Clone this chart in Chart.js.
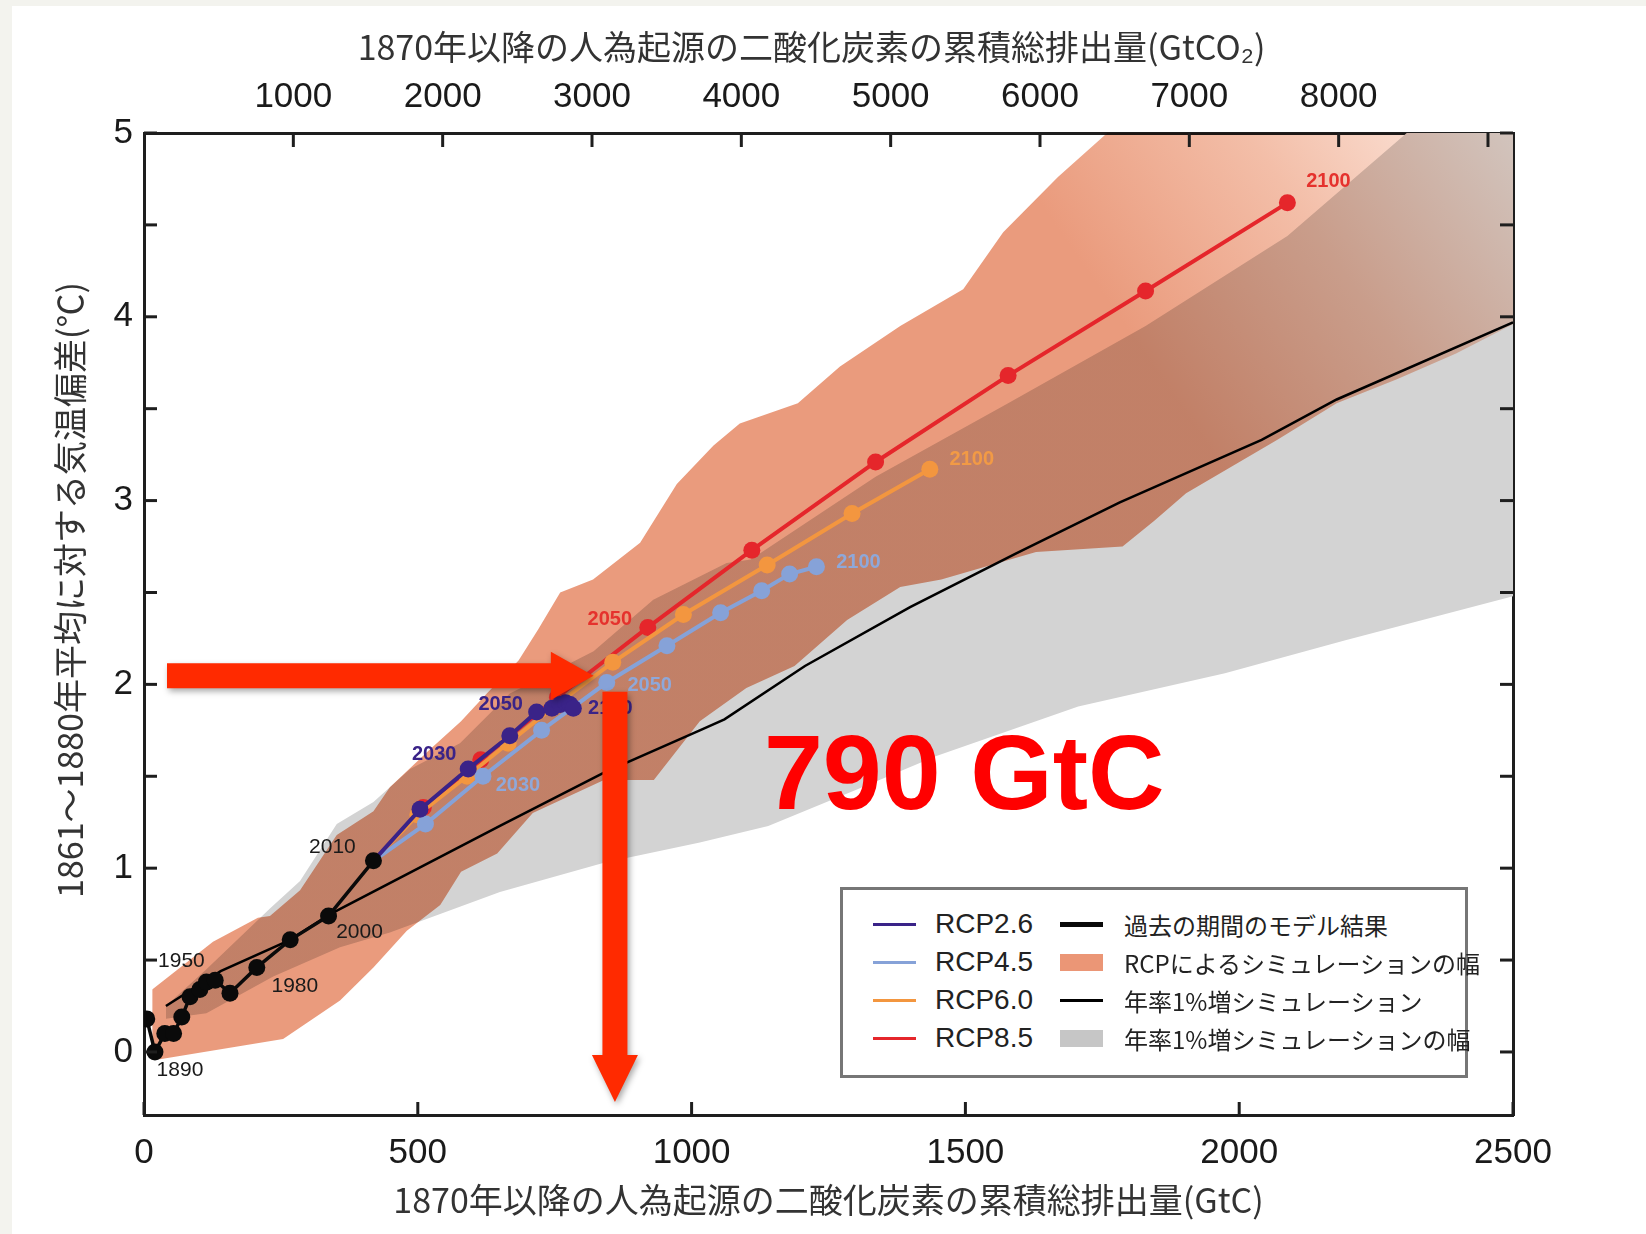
<!DOCTYPE html>
<html>
<head>
<meta charset="utf-8">
<script src="https://cdn.jsdelivr.net/npm/chart.js"></script>
<style>
  html, body { margin: 0; padding: 0; background: #f3f3ee; width: 1646px; height: 1234px; overflow: hidden; }
  #page { position: absolute; left: 12px; top: 6px; width: 1634px; height: 1228px; background: #ffffff; }
  #c { position: absolute; left: 0; top: 0; }
  #legend { position: absolute; left: 840px; top: 887px; width: 628px; height: 191px;
            border: 3px solid #767676; box-sizing: border-box; background: #ffffff; }
  .item { position: absolute; height: 38px; display: flex; align-items: center; white-space: nowrap; color: #222; }
  .item .sw { display: inline-block; width: 43px; flex: none; }
  .item.col0 .txt { font-family: "Liberation Sans", Arial, sans-serif; font-size: 28px; margin-left: 19px; }
  .item.col1 .txt { font-family: "Noto Sans CJK JP", sans-serif; font-size: 24px; margin-left: 21px; }
</style>
</head>
<body>
<div id="page"></div>
<canvas id="c" width="1646" height="1234"></canvas>
<div id="legend"></div>
<script>
// ---------------- data (GtC, °C) ----------------
const histYears = [1880, 1890, 1900, 1910, 1920, 1930, 1940, 1950, 1960, 1970, 1980, 1990, 2000, 2010];
const histX = [5, 20, 38, 54, 69, 84, 102, 114, 130, 157, 206, 267, 337, 419];
const histY = [0.18, 0.00, 0.10, 0.10, 0.19, 0.30, 0.34, 0.38, 0.39, 0.32, 0.46, 0.61, 0.74, 1.04];

const rcpYears = [2010, 2020, 2030, 2040, 2050, 2060, 2070, 2080, 2090, 2100];
const rcp26X = [419, 504, 592, 668, 717, 745, 760, 770, 778, 784];
const rcp26Y = [1.04, 1.32, 1.54, 1.72, 1.85, 1.87, 1.89, 1.90, 1.89, 1.87];
const rcp45X = [419, 514, 619, 726, 845, 955, 1053, 1128, 1179, 1228];
const rcp45Y = [1.04, 1.24, 1.50, 1.75, 2.01, 2.21, 2.39, 2.51, 2.60, 2.64];
const rcp60X = [419, 500, 590, 665, 745, 856, 985, 1138, 1293, 1435];
const rcp60Y = [1.04, 1.29, 1.50, 1.68, 1.87, 2.12, 2.38, 2.65, 2.93, 3.17];
const rcp85X = [419, 510, 615, 755, 920, 1110, 1336, 1578, 1829, 2088];
const rcp85Y = [1.04, 1.33, 1.59, 1.93, 2.31, 2.73, 3.21, 3.68, 4.14, 4.62];

// 1% per year CO2 simulations: multi-model mean
const onePctX = [40, 140, 267, 340, 650, 840, 1015, 1060, 1207, 1399, 1591, 1782, 2041, 2178, 2500];
const onePctY = [0.25, 0.44, 0.61, 0.75, 1.23, 1.52, 1.75, 1.81, 2.10, 2.42, 2.71, 2.99, 3.33, 3.55, 3.97];

// 1% per year range (grey plume)
const onePctUpX = [40, 114, 230, 285, 352, 419, 486, 577, 668, 735, 821, 930, 1064, 1108, 1336, 1578, 1829, 2088, 2306, 2500];
const onePctUpY = [0.25, 0.45, 0.78, 0.93, 1.24, 1.36, 1.54, 1.68, 1.95, 2.05, 2.18, 2.46, 2.66, 2.68, 3.13, 3.53, 3.95, 4.44, 5.00, 5.40];
const onePctLoX = [40, 114, 236, 358, 449, 650, 840, 1015, 1140, 1303, 1447, 1706, 1974, 2194, 2500];
const onePctLoY = [0.18, 0.21, 0.41, 0.57, 0.65, 0.87, 1.03, 1.14, 1.23, 1.43, 1.61, 1.88, 2.06, 2.24, 2.48];

// RCP range (coloured plume)
const rcpUpX = [15, 126, 208, 230, 285, 352, 419, 449, 520, 579, 626, 684, 720, 760, 820, 906, 973, 1040, 1088, 1194, 1271, 1381, 1496, 1569, 1669, 1759, 2000, 2500];
const rcpUpY = [0.34, 0.60, 0.73, 0.74, 0.88, 1.18, 1.31, 1.44, 1.64, 1.80, 1.95, 2.13, 2.30, 2.50, 2.57, 2.77, 3.09, 3.30, 3.42, 3.53, 3.73, 3.95, 4.15, 4.46, 4.76, 5.00, 5.60, 6.80];
const rcpLoX = [15, 29, 254, 358, 419, 480, 541, 579, 645, 710, 840, 931, 1015, 1100, 1188, 1284, 1381, 1456, 1629, 1787, 1845, 1903, 2069, 2178, 2288, 2396, 2500];
const rcpLoY = [-0.03, -0.04, 0.07, 0.28, 0.46, 0.66, 0.80, 0.98, 1.08, 1.30, 1.48, 1.48, 1.80, 1.98, 2.10, 2.35, 2.53, 2.57, 2.72, 2.75, 2.89, 3.04, 3.33, 3.53, 3.66, 3.80, 3.96];

// axes / tick labels
const GTC_TO_GTCO2 = 3.667;
const xTickLabels = [0, 500, 1000, 1500, 2000, 2500];
const topTickValues = [1000, 2000, 3000, 4000, 5000, 6000, 7000, 8000, 9000];
const topTickLabels = [1000, 2000, 3000, 4000, 5000, 6000, 7000, 8000];
const yTickLabels = [0, 1, 2, 3, 4, 5];

// labelled decades
const histLabelYears = [1890, 1950, 1980, 2000, 2010];
const rcp26LabelYears = [2030, 2050, 2100];
const rcp45LabelYears = [2030, 2050, 2100];
const rcp60LabelYears = [2100];
const rcp85LabelYears = [2050, 2100];

// texts
const X_TITLE = '1870年以降の人為起源の二酸化炭素の累積総排出量(GtC)';
const TOP_TITLE = '1870年以降の人為起源の二酸化炭素の累積総排出量(GtCO₂)\u3000';
const Y_TITLE = '\u3000\u30001861～1880年平均に対する気温偏差(℃)';
const BIG_TEXT = '790 GtC';

// annotation anchors (data units)
const ARROW_H = { x0: 42, xBase: 743, xTip: 821, y: 2.047 };
const ARROW_V = { x: 860, y0: 1.96, yBase: -0.016, yTip: -0.272 };
const BIG_TEXT_AT = { x: 1132, y: 1.32 };

// ---------------- styles ----------------
const COL = {
  rcp26: '#3a2388', rcp45: '#86a2d8', rcp60: '#f3963f', rcp85: '#e5262b',
  hist: '#0a0a0a', grey: '#d3d3d3', salmon: '#ea9b7d', arrow: '#ff2a00', big: '#ff0000'
};
const LABEL_STYLE = {
  hist:  { color: '#1a1a1a', font: '21px "Liberation Sans", Arial', off: { 1890: [25, 18], 1950: [-25, -21], 1980: [38, 19], 2000: [31, 16], 2010: [-41, -14] } },
  rcp26: { color: '#3a2388', font: 'bold 20px "Liberation Sans", Arial', off: { 2030: [-34, -14], 2050: [-36, -7], 2100: [37, 0] } },
  rcp45: { color: '#8ea8da', font: 'bold 20px "Liberation Sans", Arial', off: { 2030: [35, 9], 2050: [43, 3], 2100: [42, -4] } },
  rcp60: { color: '#f29a45', font: 'bold 20px "Liberation Sans", Arial', off: { 2100: [42, -10] } },
  rcp85: { color: '#e5322d', font: 'bold 20px "Liberation Sans", Arial', off: { 2050: [-38, -8], 2100: [41, -21] } }
};
const TICK_FONT = { family: '"Liberation Sans", Arial, sans-serif', size: 35 };
const TITLE_FONT = { family: '"Noto Sans CJK JP", sans-serif', size: 34 };
const AXIS_COLOR = '#1e1e1e';

const pts = (xs, ys) => xs.map((x, i) => ({ x, y: ys[i] }));

// dataset indices
const I = { rcp26: 0, rcp45: 1, rcp60: 2, rcp85: 3, hist: 4, onePct: 5, rcpUp: 6, rcpLo: 7, greyUp: 8, greyLo: 9 };

function plumeGradient(chart) {
  const { chartArea, scales } = chart;
  if (!chartArea) return COL.salmon;
  const x0 = scales.x.getPixelForValue(1850), y0 = scales.y.getPixelForValue(3.7);
  const x1 = scales.x.getPixelForValue(2480), y1 = scales.y.getPixelForValue(5.0);
  const g = chart.ctx.createLinearGradient(x0, y0, x1, y1);
  g.addColorStop(0, COL.salmon);
  g.addColorStop(0.5, '#f3bea8');
  g.addColorStop(1, '#fdebe2');
  return g;
}

const rcpLine = (label, xs, ys, color, order) => ({
  label, data: pts(xs, ys), borderColor: color, backgroundColor: color, borderWidth: 4,
  pointRadius: c => (c.dataIndex === 0 ? 0 : 8.5), pointBackgroundColor: color, pointBorderWidth: 0,
  fill: false, order
});

const datasets = [];
datasets[I.rcp26] = rcpLine('RCP2.6', rcp26X, rcp26Y, COL.rcp26, 10);
datasets[I.rcp45] = rcpLine('RCP4.5', rcp45X, rcp45Y, COL.rcp45, 20);
datasets[I.rcp60] = rcpLine('RCP6.0', rcp60X, rcp60Y, COL.rcp60, 30);
datasets[I.rcp85] = rcpLine('RCP8.5', rcp85X, rcp85Y, COL.rcp85, 40);
datasets[I.hist] = {
  label: '過去の期間のモデル結果', data: pts(histX, histY), borderColor: COL.hist, backgroundColor: COL.hist,
  borderWidth: 3.5, pointRadius: 8.5, pointBackgroundColor: COL.hist, pointBorderWidth: 0, fill: false, order: 5,
  legendLineWidth: 5
};
datasets[I.onePct] = {
  label: '年率1%増シミュレーション', data: pts(onePctX, onePctY), borderColor: '#000000',
  borderWidth: 2.5, pointRadius: 0, fill: false, order: 50, legendLineWidth: 3
};
datasets[I.rcpUp] = {
  label: 'RCPによるシミュレーションの幅', data: pts(rcpUpX, rcpUpY), borderColor: 'rgba(0,0,0,0)', borderWidth: 0,
  pointRadius: 0, fill: I.rcpLo, backgroundColor: c => plumeGradient(c.chart), order: 90, legendColor: '#eb9676'
};
datasets[I.rcpLo] = {
  label: '', data: pts(rcpLoX, rcpLoY), borderColor: 'rgba(0,0,0,0)', borderWidth: 0, pointRadius: 0, fill: false, order: 91
};
datasets[I.greyUp] = {
  label: '年率1%増シミュレーションの幅', data: pts(onePctUpX, onePctUpY), borderColor: 'rgba(0,0,0,0)', borderWidth: 0,
  pointRadius: 0, fill: I.greyLo, backgroundColor: COL.grey, order: 100, legendColor: '#c6c6c6'
};
datasets[I.greyLo] = {
  label: '', data: pts(onePctLoX, onePctLoY), borderColor: 'rgba(0,0,0,0)', borderWidth: 0, pointRadius: 0, fill: false, order: 101
};

// RCP plume is multiplied over the grey plume (overlap becomes brown)
const blendPlugin = {
  id: 'blend',
  afterDatasetDraw(chart, args) {
    if (args.index === I.rcpLo) chart.ctx.globalCompositeOperation = 'multiply';
    if (args.index === I.rcpUp) chart.ctx.globalCompositeOperation = 'source-over';
  }
};

const overlayPlugin = {
  id: 'overlay',
  afterDatasetsDraw(chart) {
    const { ctx, chartArea: a, scales } = chart;
    ctx.save();
    ctx.globalCompositeOperation = 'source-over';
    // inward tick marks
    ctx.strokeStyle = AXIS_COLOR; ctx.lineWidth = 3; ctx.lineCap = 'butt';
    const L = 13;
    const seg = (x1, y1, x2, y2) => { ctx.beginPath(); ctx.moveTo(x1, y1); ctx.lineTo(x2, y2); ctx.stroke(); };
    scales.y.ticks.forEach(t => {
      if (Math.abs(t.value * 2 - Math.round(t.value * 2)) > 1e-6) return;
      const py = scales.y.getPixelForValue(t.value);
      seg(a.left, py, a.left + L, py); seg(a.right, py, a.right - L, py);
    });
    scales.x.ticks.forEach(t => {
      const px = scales.x.getPixelForValue(t.value);
      seg(px, a.bottom, px, a.bottom - L);
    });
    scales.x2.ticks.forEach(t => {
      const px = scales.x2.getPixelForValue(t.value);
      seg(px, a.top, px, a.top + 14);
    });

    // decade labels
    const drawLabels = (dsIdx, years, labelYears, style) => {
      const meta = chart.getDatasetMeta(dsIdx);
      ctx.font = style.font; ctx.fillStyle = style.color; ctx.textAlign = 'center'; ctx.textBaseline = 'middle';
      labelYears.forEach(yr => {
        const el = meta.data[years.indexOf(yr)];
        const [dx, dy] = style.off[yr];
        ctx.fillText(String(yr), el.x + dx, el.y + dy);
      });
    };
    drawLabels(I.hist, histYears, histLabelYears, LABEL_STYLE.hist);
    drawLabels(I.rcp26, rcpYears, rcp26LabelYears, LABEL_STYLE.rcp26);
    drawLabels(I.rcp45, rcpYears, rcp45LabelYears, LABEL_STYLE.rcp45);
    drawLabels(I.rcp60, rcpYears, rcp60LabelYears, LABEL_STYLE.rcp60);
    drawLabels(I.rcp85, rcpYears, rcp85LabelYears, LABEL_STYLE.rcp85);

    // arrows
    const X = v => scales.x.getPixelForValue(v), Y = v => scales.y.getPixelForValue(v);
    ctx.shadowColor = 'rgba(0,0,0,0.35)'; ctx.shadowBlur = 6; ctx.shadowOffsetX = 2; ctx.shadowOffsetY = 3;
    ctx.fillStyle = COL.arrow;
    const T = 12.5, H = 24;
    let yc = Y(ARROW_H.y), xb = X(ARROW_H.xBase);
    ctx.beginPath();
    ctx.moveTo(X(ARROW_H.x0), yc - T); ctx.lineTo(xb, yc - T); ctx.lineTo(xb, yc - H);
    ctx.lineTo(X(ARROW_H.xTip), yc); ctx.lineTo(xb, yc + H); ctx.lineTo(xb, yc + T);
    ctx.lineTo(X(ARROW_H.x0), yc + T); ctx.closePath(); ctx.fill();
    let xc = X(ARROW_V.x), yb = Y(ARROW_V.yBase);
    ctx.beginPath();
    ctx.moveTo(xc - T, Y(ARROW_V.y0)); ctx.lineTo(xc + T, Y(ARROW_V.y0)); ctx.lineTo(xc + T, yb);
    ctx.lineTo(xc + H - 1, yb); ctx.lineTo(xc, Y(ARROW_V.yTip)); ctx.lineTo(xc - H + 1, yb);
    ctx.lineTo(xc - T, yb); ctx.closePath(); ctx.fill();
    ctx.shadowColor = 'rgba(0,0,0,0)'; ctx.shadowBlur = 0; ctx.shadowOffsetX = 0; ctx.shadowOffsetY = 0;

    ctx.font = 'bold 106px "Liberation Sans", Arial, sans-serif';
    ctx.fillStyle = COL.big; ctx.textAlign = 'left'; ctx.textBaseline = 'alphabetic';
    ctx.fillText(BIG_TEXT, X(BIG_TEXT_AT.x), Y(BIG_TEXT_AT.y));
    ctx.restore();
  }
};

const borderOpt = { display: true, color: AXIS_COLOR, width: 3 };
const labelIn = (list) => (v) => (list.some(t => Math.abs(t - v) < 1e-6) ? String(Math.round(v)) : '');

const chart = new Chart(document.getElementById('c').getContext('2d'), {
  type: 'line',
  data: { datasets },
  options: {
    responsive: false, animation: false, devicePixelRatio: 1,
    layout: { padding: 0 },
    elements: { line: { tension: 0 } },
    plugins: { legend: { display: false }, tooltip: { enabled: false }, title: { display: false } },
    scales: {
      x: {
        type: 'linear', position: 'bottom', min: 0, max: 2500,
        grid: { display: false }, border: borderOpt,
        ticks: { stepSize: 500, includeBounds: false, autoSkip: false, maxRotation: 0, padding: 9, color: '#1a1a1a', font: TICK_FONT,
                 callback: labelIn(xTickLabels) },
        title: { display: true, text: X_TITLE, color: '#333', font: TITLE_FONT, padding: { top: 0, bottom: 14 } },
        afterFit: s => { s.height = 1234 - 1115; }
      },
      x2: {
        type: 'linear', position: 'top', min: 0, max: 2500 * GTC_TO_GTCO2,
        grid: { display: false }, border: borderOpt,
        afterBuildTicks: s => { s.ticks = topTickValues.map(v => ({ value: v })); },
        ticks: { autoSkip: false, maxRotation: 0, padding: 7, color: '#1a1a1a', font: TICK_FONT,
                 callback: labelIn(topTickLabels) },
        title: { display: true, text: TOP_TITLE, color: '#333', font: TITLE_FONT, padding: { top: 27, bottom: 0 } },
        afterFit: s => { s.height = 133; }
      },
      y: {
        type: 'linear', position: 'left', min: -0.343, max: 5,
        grid: { display: false }, border: borderOpt,
        ticks: { stepSize: 0.5, includeBounds: false, autoSkip: false, padding: 3, color: '#1a1a1a', font: TICK_FONT,
                 callback: labelIn(yTickLabels) },
        title: { display: true, text: Y_TITLE, color: '#333', font: TITLE_FONT, padding: { top: 50, bottom: 0 } },
        afterFit: s => { s.width = 144; }
      },
      y2: {
        type: 'linear', position: 'right', min: -0.343, max: 5,
        grid: { display: false }, border: borderOpt,
        ticks: { display: false, stepSize: 0.5, includeBounds: false },
        afterFit: s => { s.width = 1646 - 1513; }
      }
    }
  },
  plugins: [blendPlugin, overlayPlugin]
});

// ---------------- HTML legend built from the chart's datasets ----------------
const LEGEND_LAYOUT = { cols: [[I.rcp26, I.rcp45, I.rcp60, I.rcp85], [I.hist, I.rcpUp, I.onePct, I.greyUp]],
                        left: [30, 217], top: 15, rowH: 38 };
const legendEl = document.getElementById('legend');
LEGEND_LAYOUT.cols.forEach((col, c) => col.forEach((dsIdx, r) => {
  const ds = chart.data.datasets[dsIdx];
  const item = document.createElement('div');
  item.className = 'item col' + c;
  item.style.left = LEGEND_LAYOUT.left[c] + 'px';
  item.style.top = (LEGEND_LAYOUT.top + r * LEGEND_LAYOUT.rowH) + 'px';
  const sw = document.createElement('span');
  sw.className = 'sw';
  if (ds.fill !== false && ds.fill !== undefined) {
    sw.style.height = '17px'; sw.style.background = ds.legendColor;
  } else {
    sw.style.height = (ds.legendLineWidth || 3) + 'px'; sw.style.background = ds.borderColor;
  }
  const txt = document.createElement('span');
  txt.className = 'txt';
  txt.textContent = ds.label;
  item.appendChild(sw); item.appendChild(txt);
  legendEl.appendChild(item);
}));
</script>
</body>
</html>
